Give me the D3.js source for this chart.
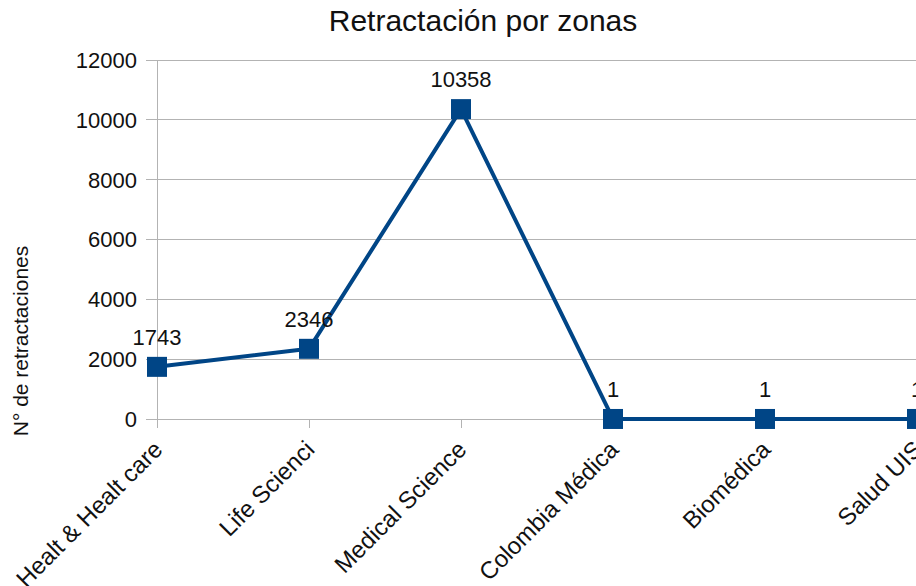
<!DOCTYPE html>
<html><head><meta charset="utf-8">
<script src="https://cdn.jsdelivr.net/npm/d3@7"></script>
<style>body{margin:0;background:#fff}svg{display:block}</style>
</head><body>
<script>
const categories = ["Healt & Healt care","Life Scienci","Medical Science","Colombia Médica","Biomédica","Salud UIS"];
const values = [1743, 2346, 10358, 1, 1, 1];
const yTicks = [0, 2000, 4000, 6000, 8000, 10000, 12000];
const title = "Retractación por zonas";
const yTitle = "N° de retractaciones";

const W = 916, H = 586;
const svg = d3.select("body").append("svg").attr("width", W).attr("height", H);
const font = "'Liberation Sans', Arial, sans-serif";
const x = d3.scalePoint().domain(categories).range([157, 917]).padding(0);
const y = d3.scaleLinear().domain([0, 12000]).range([419, 60]);
const blue = "#004586", grid = "#b3b3b3";

// gridlines
svg.append("g").selectAll("line").data(yTicks).join("line")
  .attr("x1", 146).attr("x2", W).attr("y1", d => y(d)).attr("y2", d => y(d))
  .attr("stroke", grid).attr("stroke-width", 1).attr("shape-rendering", "crispEdges");
// y axis line
svg.append("line").attr("x1", 157).attr("x2", 157).attr("y1", y(12000)).attr("y2", 428)
  .attr("stroke", grid).attr("shape-rendering", "crispEdges");
// x ticks
svg.append("g").selectAll("line").data(categories).join("line")
  .attr("x1", d => x(d)).attr("x2", d => x(d)).attr("y1", 419).attr("y2", 428)
  .attr("stroke", grid).attr("shape-rendering", "crispEdges");
// y tick labels
svg.append("g").selectAll("text").data(yTicks).join("text")
  .attr("x", 137).attr("y", d => y(d)).attr("dy", "0.36em")
  .attr("text-anchor", "end").attr("font-family", font).attr("font-size", 22).attr("fill", "#111")
  .text(d => d);
// x labels
svg.append("g").selectAll("text").data(categories).join("text")
  .attr("transform", d => `translate(${x(d) + 7},${451}) rotate(-45)`)
  .attr("text-anchor", "end").attr("font-family", font).attr("font-size", 24).attr("fill", "#111")
  .text(d => d);
// line
svg.append("path").datum(values)
  .attr("d", d3.line().x((d, i) => x(categories[i])).y(d => y(d)))
  .attr("fill", "none").attr("stroke", blue).attr("stroke-width", 4).attr("stroke-linejoin", "round");
// markers
svg.append("g").selectAll("rect").data(values).join("rect")
  .attr("x", (d, i) => x(categories[i]) - 10).attr("y", d => y(d) - 10)
  .attr("width", 20).attr("height", 20).attr("fill", blue);
// data labels
svg.append("g").selectAll("text").data(values).join("text")
  .attr("x", (d, i) => x(categories[i])).attr("y", d => y(d) - 22)
  .attr("text-anchor", "middle").attr("font-family", font).attr("font-size", 22).attr("fill", "#111")
  .text(d => d);
// title
svg.append("text").attr("x", 483).attr("y", 31).attr("text-anchor", "middle")
  .attr("font-family", font).attr("font-size", 30).attr("fill", "#111").text(title);
// y title
svg.append("text").attr("transform", `translate(28,341) rotate(-90)`).attr("text-anchor", "middle")
  .attr("font-family", font).attr("font-size", 21).attr("fill", "#111").text(yTitle);
</script>
</body></html>
